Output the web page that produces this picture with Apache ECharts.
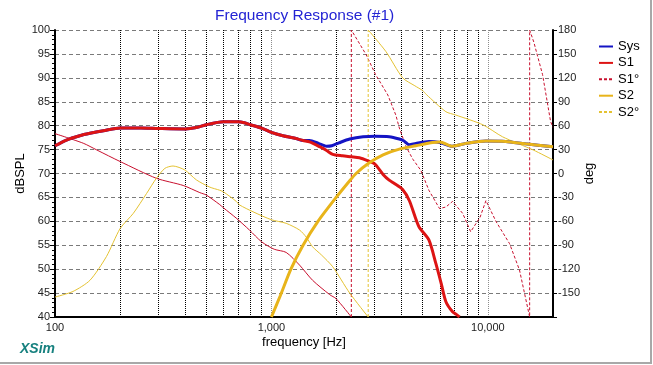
<!DOCTYPE html>
<html>
<head>
<meta charset="utf-8">
<script src="https://cdn.jsdelivr.net/npm/echarts@6/dist/echarts.min.js"></script>
<style>
html,body{margin:0;padding:0;background:#fff;}
#chart{width:653px;height:365px;}
</style>
</head>
<body>
<div id="chart"></div>
<script>
// ---- data ----
const xTickLabels = ['100', '1,000', '10,000'];
const gridFreqs = [200,300,400,500,600,700,800,900,2000,3000,4000,5000,6000,7000,8000,9000];

const s1Freq = [100,113,130,145,170,200,250,300,400,450,500,600,700,750,800,900,1000,1130,1300,1400,1500,1670,1800,1920,2130,2340,2550,2780,3000,3280,3500,3700,4030,4340,4800,5340,5750,6090,6400,6870,7220,7400];
const s1Spl  = [75.8,77.0,77.9,78.4,79.0,79.5,79.5,79.4,79.3,79.6,80.2,80.8,80.8,80.6,80.2,79.5,78.6,77.9,77.3,76.9,76.6,75.6,74.8,74.0,73.7,73.5,73.3,72.7,72.0,69.8,68.6,67.9,66.7,64.3,58.9,56.1,51.2,47.0,43.2,41.1,40.4,40.0];

const sysFreq = [100,113,130,145,170,200,250,300,400,450,500,600,700,750,800,900,1000,1130,1300,1400,1500,1650,1800,1900,2050,2300,2650,3000,3500,3900,4100,4340,4650,5340,5980,6860,7930,9800,12100,14900,20000];
const sysSpl  = [75.8,77.0,77.9,78.4,79.0,79.5,79.5,79.4,79.3,79.6,80.2,80.8,80.8,80.6,80.2,79.5,78.6,77.9,77.3,76.9,76.9,76.3,75.7,75.8,76.4,77.2,77.7,77.8,77.7,77.2,76.8,76.0,76.3,76.7,76.5,75.7,76.3,76.8,76.7,76.2,75.6];

const s2Freq = [1000,1100,1230,1400,1640,1990,2300,2460,2800,3280,3900,4650,5560,6000,6860,7930,9800,12100,14900,20000];
const s2Spl  = [40.0,44.5,50.0,55.0,60.0,65.0,68.5,70.0,72.1,73.9,75.1,75.8,76.5,76.6,75.7,76.3,76.8,76.7,76.2,75.6];

// S1 phase (deg): low part, then wrapped part
const s1PhLowFreq = [100,135,156,200,294,391,467,500,577,600,688,792,900,1030,1170,1350,1550,1860,1990,2340];
const s1PhLow     = [50,38,29.5,15,-6,-15,-24,-27,-39,-43,-56,-71,-85.6,-95,-99,-115,-134,-152,-157,-180];
const s1PhHighFreq = [2340,2340,2740,3030,3450,3760,3900,4200,4500,4900,5340,5980,6400,6870,7650,8330,9200,9800,10900,11300,12600,14000,15600,15600,16300,17900,19500,20000];
const s1PhHigh     = [-180,180,149,124,98.5,73,57,33,18,4,-21,-44,-42,-35,-50,-73,-55,-34,-60,-67,-88,-121,-180,180,165,124,65,58];

// S2 phase (deg)
const s2PhLowFreq = [100,121,145,173,200,230,265,294,322,351,398,450,518,577,600,688,713,822,1000,1170,1350,1450,1550,1700,1920,2300,2800];
const s2PhLow     = [-155,-148,-134,-104,-69,-50,-25,-6,6.5,9.4,4.4,-8,-17,-21,-23,-35,-39.5,-48,-58,-62.5,-71,-80,-92,-102,-117,-150,-180];
const s2PhWrapFreq = [2800,2800];
const s2PhWrap     = [-180,180];
const s2PhHighFreq = [2800,3380,4040,4600,5000,5200,6400,7100,9500,11700,16200,20000];
const s2PhHigh     = [180,153,120,110,104,99,77.5,73.4,61,46,29.5,17];

// ---- build ----
const zip = (a, b) => a.map((v, i) => [v, b[i]]);
const FONT = 'Liberation Sans, Arial, sans-serif';

const cSys = '#1414c4', cS1 = '#dd1414', cS1p = '#c8102e', cS2 = '#e8b41a', cS2p = '#e4c232';

const chart = echarts.init(document.getElementById('chart'), null, {renderer: 'canvas'});
chart.setOption({
  animation: false,
  backgroundColor: '#ffffff',
  title: {
    text: 'Frequency Response (#1)',
    left: 215, top: 8, padding: 0,
    textStyle: {color: '#2424d4', fontSize: 15.5, fontWeight: 'normal', fontFamily: FONT}
  },
  legend: {
    orient: 'vertical', left: 598, top: 40, padding: 0,
    itemWidth: 14, itemHeight: 12, itemGap: 3.4,
    data: ['Sys', 'S1', 'S1°', 'S2', 'S2°'],
    itemStyle: {color: 'rgba(0,0,0,0)', borderColor: 'rgba(0,0,0,0)', borderWidth: 0, opacity: 0},
    textStyle: {fontSize: 13, color: '#000', fontFamily: FONT, lineHeight: 12}
  },
  grid: {left: 55, right: 100, top: 30, bottom: 48},
  xAxis: {
    type: 'log', logBase: 10, min: 100, max: 20000,
    name: 'frequency [Hz]', nameLocation: 'middle', nameGap: 19, nameMoveOverlap: false,
    nameTextStyle: {fontSize: 13, color: '#000', fontFamily: FONT},
    axisLine: {show: true, onZero: false, lineStyle: {color: '#000', width: 2}},
    axisTick: {show: false},
    axisLabel: {
      fontSize: 11, color: '#222', fontFamily: FONT, margin: 5,
      formatter: function (v) {
        const i = [100, 1000, 10000].indexOf(Math.round(v));
        return i >= 0 ? xTickLabels[i] : '';
      }
    },
    splitLine: {show: true, lineStyle: {color: '#8c8c8c', type: 'dotted', width: 1}}
  },
  yAxis: [{
    type: 'value', min: 40, max: 100, interval: 5, position: 'left',
    name: 'dBSPL', nameLocation: 'middle', nameGap: 28, nameRotate: 90, nameMoveOverlap: false,
    nameTextStyle: {fontSize: 13, color: '#000', fontFamily: FONT},
    axisLine: {show: true, onZero: false, lineStyle: {color: '#000', width: 2}},
    axisTick: {show: true, length: 5, lineStyle: {color: '#000'}},
    minorTick: {show: true, splitNumber: 5, length: 3, lineStyle: {color: '#000'}},
    axisLabel: {fontSize: 11, color: '#222', fontFamily: FONT, margin: 5},
    splitLine: {show: true, lineStyle: {color: '#7a7a7a', type: [4, 3], width: 1}}
  }, {
    type: 'value', min: -180, max: 180, interval: 30, position: 'right',
    name: 'deg', nameLocation: 'middle', nameGap: 30, nameRotate: 90, nameMoveOverlap: false,
    nameTextStyle: {fontSize: 13, color: '#000', fontFamily: FONT},
    axisLine: {show: true, onZero: false, lineStyle: {color: '#000', width: 2}},
    axisTick: {show: true, length: 4, lineStyle: {color: '#000'}},
    axisLabel: {fontSize: 11, color: '#222', fontFamily: FONT, margin: 5,
      formatter: v => (v === -180 ? '' : String(v))},
    splitLine: {show: false}
  }],
  graphic: [
    {type: 'text', left: 20, top: 342,
     style: {text: 'XSim', fill: '#17817f', font: 'italic bold 14px ' + FONT}},
    {type: 'polyline', silent: true,
     shape: {points: [[651, 0], [651, 363], [0, 363]]},
     style: {stroke: '#a8a8a8', lineWidth: 2, fill: null}}
  ],
  series: [
    {
      name: 'S1°', type: 'line', yAxisIndex: 1, symbol: 'none', smooth: false, z: 3,
      lineStyle: {color: cS1p, width: 1, type: [3, 2]}, itemStyle: {color: cS1p},
      data: zip(s1PhHighFreq, s1PhHigh)
    },
    {
      name: 'S2°', type: 'line', yAxisIndex: 1, symbol: 'none', smooth: false, z: 3,
      lineStyle: {color: cS2p, width: 1, type: [3, 2]}, itemStyle: {color: cS2p},
      data: zip(s2PhWrapFreq, s2PhWrap)
    },
    {
      name: 'S1°', type: 'line', yAxisIndex: 1, symbol: 'none', smooth: 0.25, z: 3,
      lineStyle: {color: cS1p, width: 1}, itemStyle: {color: cS1p},
      data: zip(s1PhLowFreq, s1PhLow)
    },
    {
      name: 'S2°', type: 'line', yAxisIndex: 1, symbol: 'none', smooth: 0.25, z: 3,
      lineStyle: {color: cS2p, width: 1}, itemStyle: {color: cS2p},
      data: zip(s2PhLowFreq, s2PhLow)
    },
    {
      name: 'S2°', type: 'line', yAxisIndex: 1, symbol: 'none', smooth: 0.25, z: 3,
      lineStyle: {color: cS2p, width: 1}, itemStyle: {color: cS2p},
      data: zip(s2PhHighFreq, s2PhHigh)
    },
    {
      name: 'Sys', type: 'line', yAxisIndex: 0, symbol: 'none', smooth: 0.25, z: 4,
      lineStyle: {color: cSys, width: 3}, itemStyle: {color: cSys},
      data: zip(sysFreq, sysSpl),
      markLine: {
        silent: true, symbol: 'none', z: 1, label: {show: false},
        lineStyle: {color: '#000', type: 'dotted', width: 1},
        data: gridFreqs.map(f => ({xAxis: f}))
      }
    },
    {
      name: 'S1', type: 'line', yAxisIndex: 0, symbol: 'none', smooth: 0.25, z: 5,
      lineStyle: {color: cS1, width: 3}, itemStyle: {color: cS1},
      data: zip(s1Freq, s1Spl)
    },
    {
      name: 'S2', type: 'line', yAxisIndex: 0, symbol: 'none', smooth: 0.25, z: 6,
      lineStyle: {color: cS2, width: 3}, itemStyle: {color: cS2},
      data: zip(s2Freq, s2Spl)
    }
  ]
});
</script>
</body>
</html>
